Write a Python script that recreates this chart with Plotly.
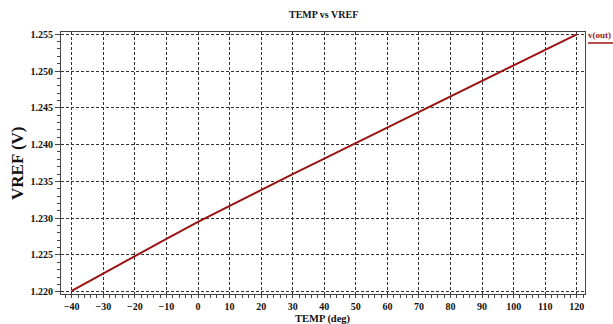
import plotly.graph_objects as go

temp = [-40, -30, -20, -10, 0, 10, 20, 30, 40, 50, 60, 70, 80, 90, 100, 110, 120]
vref = [1.2201, 1.2225, 1.2249, 1.2272, 1.2295, 1.2317, 1.2339, 1.2360, 1.2381,
        1.2402, 1.2423, 1.2444, 1.2465, 1.2487, 1.2508, 1.2529, 1.2550]
x_ticks = list(range(-40, 121, 10))
y_ticks = [1.220, 1.225, 1.230, 1.235, 1.240, 1.245, 1.250, 1.255]
y_labels = ["%.3f" % v for v in y_ticks]

RED = "#9a1414"
FONT = "Liberation Serif"
W, H = 613, 324
L, R, T, B = 61, 28, 32, 30
PW, PH = W - L - R, H - T - B


def px_x(px):
    return (px - L) / PW


def px_y(py):
    return 1 - (py - T) / PH


fig = go.Figure()
fig.add_trace(go.Scatter(x=temp, y=vref, mode="lines",
                         line=dict(color=RED, width=2), showlegend=False))

axis_common = dict(
    showline=True, linecolor="#444", linewidth=1, mirror=True, automargin=False,
    showgrid=True, gridcolor="#333", gridwidth=1, griddash="3px,2px",
    zeroline=False, ticks="outside", tickcolor="#444",
    tickfont=dict(family=FONT, size=10, color="#111", weight="bold"),
)

fig.update_layout(
    width=W, height=H,
    margin=dict(l=L, r=R, t=T, b=B, autoexpand=False),
    paper_bgcolor="white", plot_bgcolor="white",
    xaxis=dict(range=[-43.4, 122.6], tickvals=x_ticks, ticklen=3,
               minor=dict(dtick=2, ticks="outside", ticklen=3, tickcolor="#444", showgrid=False),
               **axis_common),
    yaxis=dict(range=[1.21969, 1.25531], tickvals=y_ticks, ticktext=y_labels, ticklen=5,
               minor=dict(dtick=0.001, ticks="outside", ticklen=3, tickcolor="#444", showgrid=False),
               **axis_common),
)

# title
fig.add_annotation(x=px_x(323), xref="paper", y=px_y(14), yref="paper",
                   xanchor="center", yanchor="middle", showarrow=False,
                   text="<b>TEMP vs VREF</b>",
                   font=dict(family=FONT, size=10, color="#111"))
# x axis title
fig.add_annotation(x=px_x(323), xref="paper", y=px_y(319), yref="paper",
                   xanchor="center", yanchor="middle", showarrow=False,
                   text="<b>TEMP (deg)</b>",
                   font=dict(family=FONT, size=10.5, color="#111"))
# y axis title
fig.add_annotation(x=px_x(17), xref="paper", y=px_y(163), yref="paper",
                   xanchor="center", yanchor="middle", showarrow=False,
                   textangle=-90, text="<b>VREF (V)</b>",
                   font=dict(family=FONT, size=17, color="#111"))

# legend label
fig.add_annotation(x=px_x(587), xref="paper", y=1.255, yref="y",
                   xanchor="left", yanchor="middle", yshift=-1, showarrow=False,
                   borderpad=0, text="<b>v(out)</b>",
                   font=dict(family=FONT, size=9, color=RED))
fig.add_shape(type="line", xref="paper", yref="paper",
              x0=px_x(588), x1=px_x(613), y0=px_y(43), y1=px_y(43),
              line=dict(color=RED, width=1.5))

fig.write_html("out.html", config={"displayModeBar": False},
               post_script="document.body.style.margin='0';document.body.style.overflow='hidden';")
